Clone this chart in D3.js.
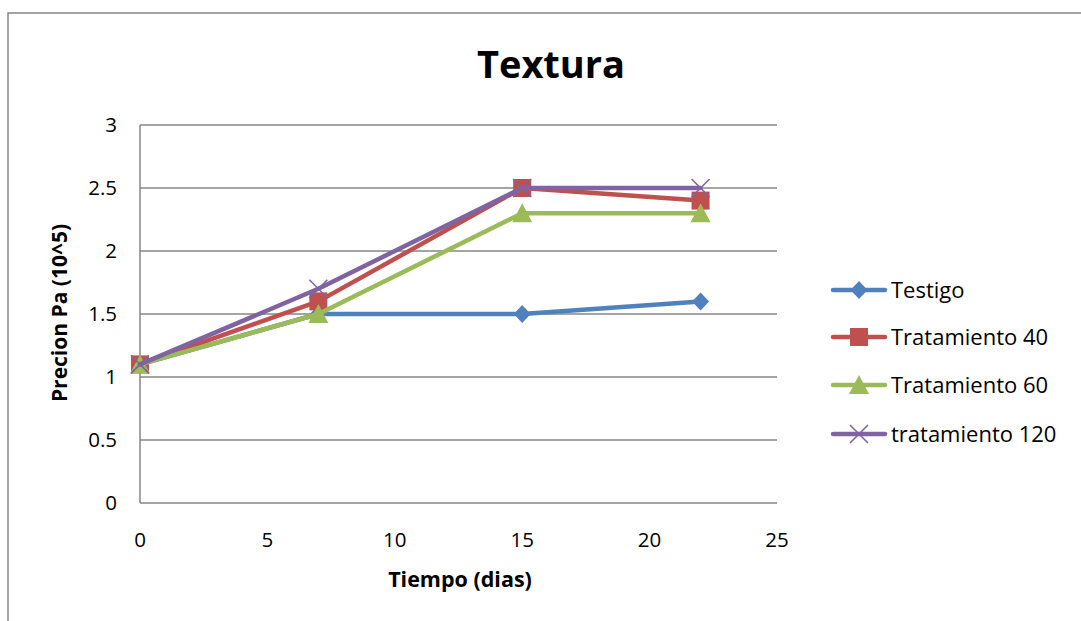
<!DOCTYPE html>
<html><head><meta charset="utf-8">
<script src="https://cdn.jsdelivr.net/npm/d3@7"></script>
<style>body{margin:0;background:#fff;} svg{display:block;} text{font-family:"Open Sans",sans-serif;fill:#000;}</style>
</head><body>
<script>
const days = [0, 7, 15, 22];
const seriesNames = ["Testigo", "Tratamiento 40", "Tratamiento 60", "tratamiento 120"];
const testigo = [1.1, 1.5, 1.5, 1.6];
const trat40 = [1.1, 1.6, 2.5, 2.4];
const trat60 = [1.1, 1.5, 2.3, 2.3];
const trat120 = [1.1, 1.7, 2.5, 2.5];
const xTicks = [0, 5, 10, 15, 20, 25];
const yTicks = [0, 0.5, 1, 1.5, 2, 2.5, 3];
const colors = ["#4F81BD", "#C0504D", "#9BBB59", "#8064A2"];
const markers = ["diamond", "square", "triangle", "x"];
const title = "Textura";
const xTitle = "Tiempo (dias)";
const yTitle = "Precion Pa (10^5)";

const series = [testigo, trat40, trat60, trat120].map((v, i) => ({name: seriesNames[i], values: v, color: colors[i], marker: markers[i]}));

const W = 1081, H = 621;
const svg = d3.select("body").append("svg").attr("width", W).attr("height", H);

svg.append("rect").attr("x", 8).attr("y", 13).attr("width", W + 10).attr("height", H + 10)
  .attr("fill", "none").attr("stroke", "#868686").attr("stroke-width", 1.5);

const x = d3.scaleLinear().domain([0, 25]).range([140, 777]);
const y = d3.scaleLinear().domain([0, 3]).range([503, 125]);

svg.append("g").selectAll("line").data(yTicks.filter(d => d > 0)).join("line")
  .attr("x1", x(0)).attr("x2", x(25)).attr("y1", d => y(d)).attr("y2", d => y(d))
  .attr("stroke", "#868686").attr("stroke-width", 1.3);

svg.append("line").attr("x1", x(0)).attr("x2", x(0)).attr("y1", y(0)).attr("y2", y(3)).attr("stroke", "#868686").attr("stroke-width", 1.5);
svg.append("line").attr("x1", x(0)).attr("x2", x(25)).attr("y1", y(0)).attr("y2", y(0)).attr("stroke", "#868686").attr("stroke-width", 1.5);

svg.append("g").selectAll("text").data(yTicks).join("text")
  .attr("x", 117).attr("y", d => y(d)).attr("dy", "0.35em").attr("text-anchor", "end")
  .style("font-size", "20.5px").text(d => d);
svg.append("g").selectAll("text").data(xTicks).join("text")
  .attr("x", d => x(d)).attr("y", 540).attr("dy", "0.35em").attr("text-anchor", "middle")
  .style("font-size", "20.5px").text(d => d);

svg.append("text").attr("x", 551).attr("y", 65).attr("dy", "0.35em").attr("text-anchor", "middle")
  .style("font-size", "38px").style("font-weight", "bold").text(title);
svg.append("text").attr("x", 460).attr("y", 579).attr("dy", "0.35em").attr("text-anchor", "middle")
  .style("font-size", "21.5px").style("font-weight", "bold").text(xTitle);
svg.append("text").attr("transform", "translate(60,313) rotate(-90)").attr("dy", "0.35em").attr("text-anchor", "middle")
  .style("font-size", "21px").style("font-weight", "bold").text(yTitle);

function drawMarker(g, type, color, cx, cy) {
  if (type === "diamond") {
    g.append("path").attr("d", `M${cx},${cy-9}L${cx+8.5},${cy}L${cx},${cy+9}L${cx-8.5},${cy}Z`).attr("fill", color);
  } else if (type === "square") {
    g.append("rect").attr("x", cx - 9).attr("y", cy - 9).attr("width", 18).attr("height", 18).attr("fill", color);
  } else if (type === "triangle") {
    g.append("path").attr("d", `M${cx},${cy-10}L${cx+10},${cy+9}L${cx-10},${cy+9}Z`).attr("fill", color);
  } else {
    g.append("path").attr("d", `M${cx-9},${cy-9}L${cx+9},${cy+9}M${cx-9},${cy+9}L${cx+9},${cy-9}`).attr("stroke", color).attr("stroke-width", 1.6);
  }
}

const line = d3.line().x((d, i) => x(days[i])).y(d => y(d));
const gs = svg.append("g");
series.forEach(s => {
  gs.append("path").attr("d", line(s.values)).attr("fill", "none").attr("stroke", s.color)
    .attr("stroke-width", 4.5).attr("stroke-linejoin", "round").attr("stroke-linecap", "round");
  s.values.forEach((v, i) => drawMarker(gs, s.marker, s.color, x(days[i]), y(v)));
});

const leg = svg.append("g");
const legY = [290, 337, 385, 434];
series.forEach((s, i) => {
  const ly = legY[i];
  leg.append("line").attr("x1", 833).attr("x2", 885).attr("y1", ly).attr("y2", ly)
    .attr("stroke", s.color).attr("stroke-width", 4.5).attr("stroke-linecap", "round");
  drawMarker(leg, s.marker, s.color, 859, ly);
  leg.append("text").attr("x", 891).attr("y", ly).attr("dy", "0.35em").style("font-size", "22px").text(s.name);
});
</script>
</body></html>
